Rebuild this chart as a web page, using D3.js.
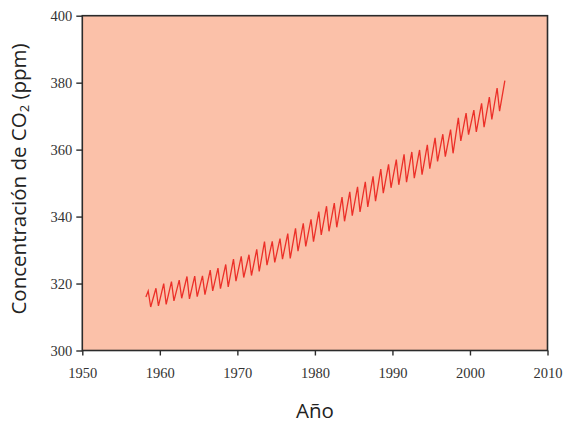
<!DOCTYPE html>
<html>
<head>
<meta charset="utf-8">
<script src="https://cdn.jsdelivr.net/npm/d3@7"></script>
<style>
  body { margin: 0; background: #fff; }
  svg { display: block; }
</style>
</head>
<body>
<div id="chart"></div>
<script>
/*
 * Mauna Loa CO2 record, seasonal highs and lows per year
 */
var years = [1958, 1959, 1960, 1961, 1962, 1963, 1964, 1965, 1966, 1967,
    1968, 1969, 1970, 1971, 1972, 1973, 1974, 1975, 1976, 1977,
    1978, 1979, 1980, 1981, 1982, 1983, 1984, 1985, 1986, 1987,
    1988, 1989, 1990, 1991, 1992, 1993, 1994, 1995, 1996, 1997,
    1998, 1999, 2000, 2001, 2002, 2003, 2004];
// yearly maximum (spring) in ppm
var highs = [317.8, 318.6, 320.0, 320.6, 321.0, 322.1, 322.2, 322.3, 324.0, 324.6,
    325.7, 327.3, 328.1, 328.6, 330.2, 332.5, 332.6, 333.4, 334.9, 336.5,
    338.0, 339.2, 341.5, 343.1, 344.0, 345.8, 347.4, 348.9, 350.4, 352.0,
    354.2, 355.6, 357.0, 358.6, 359.3, 359.9, 361.4, 363.5, 364.6, 366.0,
    369.5, 370.9, 371.8, 373.8, 375.7, 378.4, 380.6];
// yearly minimum (autumn) in ppm, none drawn after the last high
var lows = [313.0, 313.3, 313.8, 314.8, 315.6, 315.4, 316.1, 316.7, 317.8, 318.5,
    319.0, 320.7, 321.8, 322.4, 323.6, 325.5, 326.3, 327.3, 327.5, 329.7,
    331.1, 332.5, 334.5, 335.6, 336.8, 338.6, 340.3, 341.4, 342.9, 344.6,
    347.0, 348.6, 349.5, 350.3, 351.5, 352.5, 354.3, 356.5, 357.9, 358.9,
    362.6, 364.5, 365.3, 366.7, 369.0, 371.5];
var startPoint = [1958.2, 316.0];

var xTicks = [1950, 1960, 1970, 1980, 1990, 2000, 2010];
var yTicks = [300, 320, 340, 360, 380, 400];

var width = 563, height = 424;
var margin = {top: 15.7, right: 15.5, bottom: 73.5, left: 82.3};

var svg = d3.select('#chart').append('svg')
    .attr('width', width)
    .attr('height', height);

var x = d3.scaleLinear().domain([1950, 2010]).range([margin.left, width - margin.right]);
var y = d3.scaleLinear().domain([300, 400]).range([height - margin.bottom, margin.top]);

// plot background
svg.append('rect')
    .attr('x', x(1950)).attr('y', y(400))
    .attr('width', x(2010) - x(1950))
    .attr('height', y(300) - y(400))
    .attr('fill', '#fbc1a9');

// build the zigzag: high in mid-year, low in autumn
var points = [startPoint];
years.forEach(function(yr, i) {
    points.push([yr + 0.5, highs[i]]);
    if (i < lows.length) points.push([yr + 0.82, lows[i]]);
});

var line = d3.line()
    .x(function(d) { return x(d[0]); })
    .y(function(d) { return y(d[1]); });

svg.append('path')
    .datum(points)
    .attr('d', line)
    .attr('fill', 'none')
    .attr('stroke', '#ec2f28')
    .attr('stroke-width', 1.3)
    .attr('stroke-linejoin', 'miter');

// frame
svg.append('rect')
    .attr('x', x(1950)).attr('y', y(400))
    .attr('width', x(2010) - x(1950))
    .attr('height', y(300) - y(400))
    .attr('fill', 'none')
    .attr('stroke', '#2b2b2b')
    .attr('stroke-width', 1.6);

var xAxis = svg.append('g')
    .attr('transform', 'translate(0,' + y(300) + ')')
    .call(d3.axisBottom(x).tickValues(xTicks).tickFormat(d3.format('d')).tickSize(5).tickPadding(12));

var yAxis = svg.append('g')
    .attr('transform', 'translate(' + x(1950) + ',0)')
    .call(d3.axisLeft(y).tickValues(yTicks).tickFormat(d3.format('d')).tickSize(6).tickPadding(4));

[xAxis, yAxis].forEach(function(a) {
    a.select('.domain').remove();
    a.selectAll('line').attr('stroke', '#2b2b2b').attr('stroke-width', 1.4);
    a.selectAll('text')
        .attr('fill', '#333')
        .style('font-family', '"Liberation Serif", serif')
        .style('font-size', '14.5px');
});

// axis titles
svg.append('text')
    .attr('x', (x(1950) + x(2010)) / 2)
    .attr('y', 418)
    .attr('text-anchor', 'middle')
    .attr('fill', '#222')
    .style('font-family', '"Open Sans", sans-serif')
    .style('font-size', '20.5px')
    .text('Año');

var yTitle = svg.append('text')
    .attr('transform', 'translate(25.5,' + 179 + ') rotate(-90)')
    .attr('text-anchor', 'middle')
    .attr('fill', '#222')
    .style('font-family', '"Open Sans", sans-serif')
    .style('font-size', '20.5px');
yTitle.append('tspan').text('Concentración de CO');
yTitle.append('tspan').attr('dy', 3).style('font-size', '13px').text('2');
yTitle.append('tspan').attr('dy', -3).text(' (ppm)');
</script>
</body>
</html>
